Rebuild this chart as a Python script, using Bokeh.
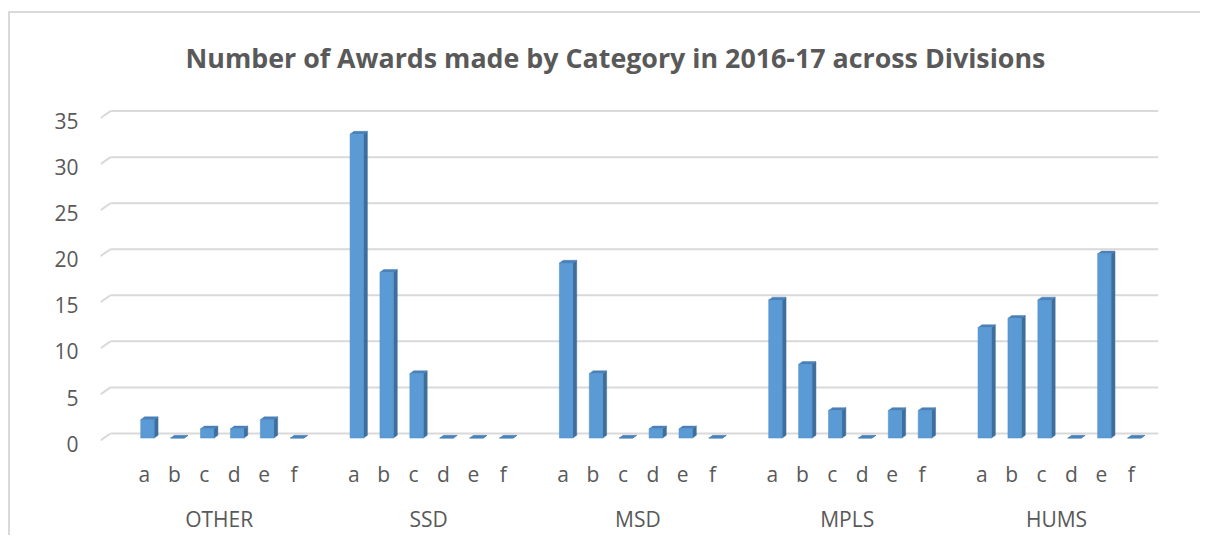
from bokeh.plotting import figure
from bokeh.models import (ColumnDataSource, Range1d, LinearAxis, FixedTicker, Title)
from bokeh.embed import file_html
from bokeh.resources import INLINE

# ---- data ----
divisions = ["OTHER", "SSD", "MSD", "MPLS", "HUMS"]
letters = ["a", "b", "c", "d", "e", "f"]
other_vals = [2, 0, 1, 1, 2, 0]
ssd_vals = [33, 18, 7, 0, 0, 0]
msd_vals = [19, 7, 0, 1, 1, 0]
mpls_vals = [15, 8, 3, 0, 3, 3]
hums_vals = [12, 13, 15, 0, 20, 0]
y_ticks = [0, 5, 10, 15, 20, 25, 30, 35]

series = [other_vals, ssd_vals, msd_vals, mpls_vals, hums_vals]

# ---- style constants ----
GAP = 1            # empty slot between divisions
BAR_W = 0.45
BAR_SHIFT = 0.10
DX = 0.13          # 3d side depth (x units)
DY_BAR = 0.30      # 3d top depth (value units)
FRONT = 0.5        # front plane offset below back wall (value units)
TEXT = "#595959"
GRID = "#D9D9D9"
FONT = "Open Sans"

pos, vals, tick_labels = [], [], {}
for g, vs in enumerate(series):
    for i, v in enumerate(vs):
        x = g * (len(letters) + GAP) + i
        pos.append(x)
        vals.append(v)
        tick_labels[x] = letters[i]
group_centers = [g * (len(letters) + GAP) + (len(letters) - 1) / 2 for g in range(len(divisions))]
group_labels = {c: d for c, d in zip(group_centers, divisions)}

x_start, x_grid0, x_end = -1.47, -1.137, pos[-1] + 0.91
y_start, y_end = -1.2, 35.5
LABEL_SHIFT = 1.1

p = figure(frame_width=1058, frame_height=338, output_backend="svg", toolbar_location=None,
           x_range=Range1d(x_start, x_end), y_range=Range1d(y_start, y_end),
           x_axis_location=None, y_axis_location=None,
           min_border_left=100, min_border_right=42, min_border_top=106, min_border_bottom=84,
           background_fill_color="white", border_fill_color="white", border_fill_alpha=0)
p.outline_line_color = None
p.xgrid.visible = False
p.ygrid.visible = False
# chart-area outline (top and left edges) painted behind the transparent canvas border
p.styles = {
    "background": ("linear-gradient(#D9D9D9, #D9D9D9) 8px 11px / 100% 2px no-repeat, "
                   "linear-gradient(#D9D9D9, #D9D9D9) 8px 11px / 2px 100% no-repeat, white"),
    "overflow": "hidden",
}

# title
t = Title(text="Number of Awards made by Category in 2016-17 across Divisions",
          text_font=FONT, text_font_size="26.8px", text_font_style="bold",
          text_color=TEXT, align="left", offset=85, standoff=62)
p.add_layout(t, "above")

# gridlines (back wall) and diagonal floor/side edges
p.segment(x0=[x_grid0] * len(y_ticks), y0=y_ticks, x1=[x_end] * len(y_ticks), y1=y_ticks,
          line_color=GRID, line_width=2)
p.segment(x0=[x_start] * len(y_ticks), y0=[v - 0.75 for v in y_ticks],
          x1=[x_grid0] * len(y_ticks), y1=y_ticks, line_color=GRID, line_width=2)

# bars: front, side, top faces
lefts = [x + BAR_SHIFT - BAR_W / 2 for x in pos]
rights = [x + BAR_SHIFT + BAR_W / 2 for x in pos]
side_xs = [[r, r + DX, r + DX, r] for r in rights]
side_ys = [[-FRONT, -FRONT + DY_BAR, v - FRONT + DY_BAR, v - FRONT] for v in vals]
top_xs = [[l, l + DX, r + DX, r] for l, r in zip(lefts, rights)]
top_ys = [[v - FRONT, v - FRONT + DY_BAR, v - FRONT + DY_BAR, v - FRONT] for v in vals]
p.patches(xs=side_xs, ys=side_ys, fill_color="#3E6E9C", line_color="#3E6E9C", line_width=0.5)
p.patches(xs=top_xs, ys=top_ys, fill_color="#4A80B8", line_color="#4A80B8", line_width=0.5)
src = ColumnDataSource(dict(x=[x + BAR_SHIFT for x in pos], top=[v - FRONT for v in vals],
                            bottom=[-FRONT] * len(vals)))
p.vbar(x="x", top="top", bottom="bottom", width=BAR_W, source=src,
       fill_color="#5B9BD5", line_color="#4F8CC4", line_width=0.5)

# y axis (front plane labels)
p.extra_y_ranges = {"front": Range1d(y_start + LABEL_SHIFT, y_end + LABEL_SHIFT)}
yax = LinearAxis(y_range_name="front", ticker=FixedTicker(ticks=y_ticks))
xax = LinearAxis(ticker=FixedTicker(ticks=pos), major_label_overrides=tick_labels)
gax = LinearAxis(ticker=FixedTicker(ticks=group_centers), major_label_overrides=group_labels)
for ax, so in [(yax, 22), (xax, 15), (gax, 14)]:
    ax.axis_line_color = None
    ax.major_tick_line_color = None
    ax.minor_tick_line_color = None
    ax.major_tick_out = 0
    ax.major_tick_in = 0
    ax.major_label_standoff = so
    ax.major_label_text_font = FONT
    ax.major_label_text_font_size = "21px"
    ax.major_label_text_color = TEXT
p.add_layout(yax, "left")
p.add_layout(xax, "below")
p.add_layout(gax, "below")

open("out.html", "w").write(file_html(p, INLINE))
